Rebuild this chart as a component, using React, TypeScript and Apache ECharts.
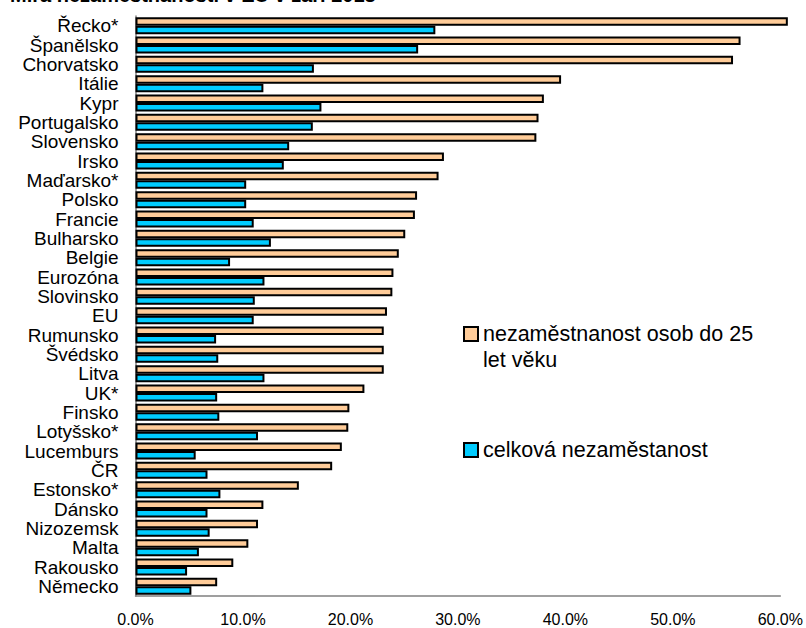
import React, { useEffect, useRef } from "react";
import * as echarts from "echarts";

const titleText = "Míra nezaměstnanosti v EU v září 2013";
const categories = [
  "Řecko*", "Španělsko", "Chorvatsko", "Itálie", "Kypr", "Portugalsko", "Slovensko",
  "Irsko", "Maďarsko*", "Polsko", "Francie", "Bulharsko", "Belgie", "Eurozóna",
  "Slovinsko", "EU", "Rumunsko", "Švédsko", "Litva", "UK*", "Finsko", "Lotyšsko*",
  "Lucemburs", "ČR", "Estonsko*", "Dánsko", "Nizozemsk", "Malta", "Rakousko", "Německo",
];
const youthName = "nezaměstnanost osob do 25 let věku";
const totalName = "celková nezaměstanost";
const youthValues = [
  60.7, 56.3, 55.6, 39.6, 38.0, 37.5, 37.3,
  28.7, 28.2, 26.2, 26.0, 25.1, 24.5, 24.0,
  23.9, 23.4, 23.1, 23.1, 23.1, 21.3, 19.9, 19.8,
  19.2, 18.3, 15.2, 11.9, 11.4, 10.5, 9.1, 7.6,
];
const totalValues = [
  27.9, 26.3, 16.6, 11.9, 17.3, 16.5, 14.3,
  13.8, 10.3, 10.3, 11.0, 12.6, 8.8, 12.0,
  11.1, 11.0, 7.5, 7.7, 12.0, 7.6, 7.8, 11.4,
  5.6, 6.7, 7.9, 6.7, 6.9, 5.9, 4.8, 5.2,
];
const xTicks = { min: 0, max: 60, interval: 10 };

const FONT = "'Liberation Sans', Arial, sans-serif";

export default function App() {
  const ref = useRef<HTMLDivElement>(null);
  useEffect(() => {
    if (!ref.current) return;
    const chart = echarts.init(ref.current, null, { renderer: "svg" });
    const barStyle = (color: string) => ({
      color,
      borderColor: "#000",
      borderWidth: 2,
    });
    chart.setOption({
      animation: false,
      backgroundColor: "#fff",
      textStyle: { fontFamily: FONT },
      grid: { left: 135.5, right: 25, top: 16, bottom: 32, containLabel: false },
      legend: [
        {
          data: [youthName],
          left: 463,
          top: 323,
          padding: 0,
          itemWidth: 14,
          itemHeight: 14,
          itemGap: 0,
          icon: "rect",
          formatter: () => "nezaměstnanost osob do 25",
          textStyle: { fontSize: 21.5, color: "#000", fontFamily: FONT },
        },
        {
          data: [totalName],
          left: 463,
          top: 439,
          padding: 0,
          itemWidth: 14,
          itemHeight: 14,
          icon: "rect",
          textStyle: { fontSize: 21.5, color: "#000", fontFamily: FONT },
        },
      ],
      graphic: [
        {
          type: "text",
          left: 10,
          top: -15,
          style: { text: titleText, font: `bold 20px ${FONT}`, fill: "#000" },
        },
        {
          type: "text",
          left: 483,
          top: 349,
          style: { text: "let věku", font: `21.5px ${FONT}`, fill: "#000" },
        },
      ],
      xAxis: {
        type: "value",
        min: xTicks.min,
        max: xTicks.max,
        interval: xTicks.interval,
        axisLine: { show: true, lineStyle: { color: "#808080", width: 1.5 } },
        axisTick: { show: false },
        splitLine: { show: false },
        axisLabel: {
          margin: 15,
          fontSize: 16,
          color: "#000",
          fontFamily: FONT,
          formatter: (v: number) => v.toFixed(1) + "%",
        },
      },
      yAxis: {
        type: "category",
        data: categories,
        inverse: true,
        axisLine: { show: true, lineStyle: { color: "#808080", width: 1.5 } },
        axisTick: { show: false },
        axisLabel: { interval: 0, margin: 17, fontSize: 19, color: "#000", fontFamily: FONT },
      },
      series: [
        {
          name: youthName,
          type: "bar",
          data: youthValues,
          barWidth: 8.5,
          barGap: "0%",
          clip: false,
          itemStyle: barStyle("#FFCC99"),
        },
        {
          name: totalName,
          type: "bar",
          data: totalValues,
          barWidth: 8.5,
          barGap: "0%",
          clip: false,
          itemStyle: barStyle("#00CCFF"),
        },
      ],
    });
    return () => chart.dispose();
  }, []);
  return (
    <div
      ref={ref}
      style={{ position: "fixed", left: 0, top: 0, width: 806, height: 628 }}
    />
  );
}
